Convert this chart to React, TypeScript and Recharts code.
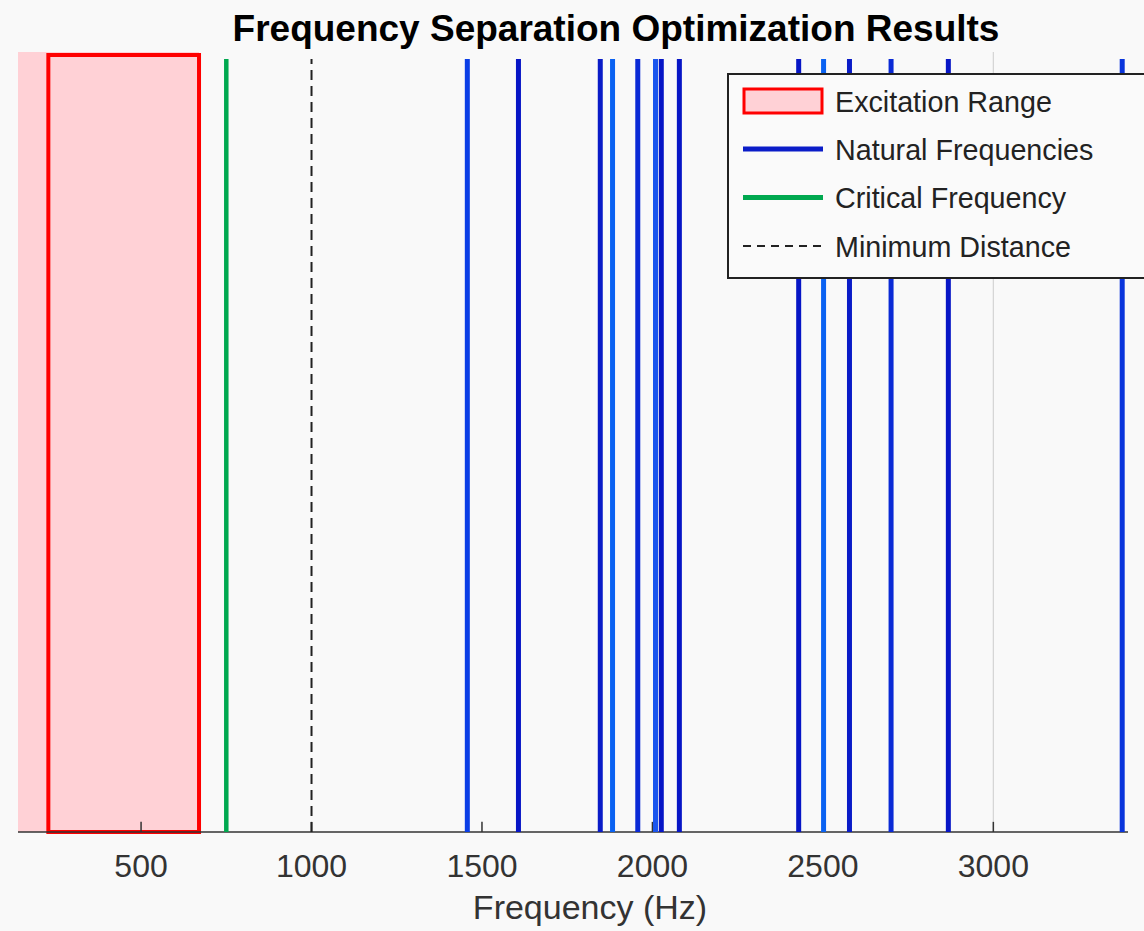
import { ComposedChart, XAxis, YAxis, ReferenceLine, ReferenceArea } from 'recharts'

// x axis
const xDomain = [139, 3395]
const xTicks = [500, 1000, 1500, 2000, 2500, 3000]

// markers (Hz)
const excitationRange = [228, 670]
const criticalFrequency = 750
const minimumDistance = 1000
const naturalFrequencies = [1457, 1607, 1847, 1883, 1957, 2009, 2026, 2079, 2429, 2502, 2578, 2700, 2868, 3378]

// line shades, one per natural frequency
const naturalShades = ['#0a3ee6', '#0716c6', '#0a1cc8', '#0a62f2', '#0a2ad6', '#1a55ee', '#0716c6', '#0716c6', '#0716c6', '#0a62f2', '#0a1cc8', '#0a2ad6', '#0716c6', '#0a35dc']

const legendItems = ['Excitation Range', 'Natural Frequencies', 'Critical Frequency', 'Minimum Distance']

const font = '"Liberation Sans", Arial, Helvetica, sans-serif'

const FreqTick = (props: any) => {
  const { x, y, payload } = props
  return (
    <text x={x} y={y + 45} textAnchor="middle" fontSize={32} fill="#333" fontFamily={font}>
      {payload.value}
    </text>
  )
}

export default function App() {
  return (
    <div style={{ position: 'absolute', left: 0, top: 0, width: 1144, height: 931, background: '#f9f9f9', fontFamily: font, overflow: 'hidden' }}>
      <div style={{ position: 'absolute', left: 0, width: 1232, top: 8, textAlign: 'center', fontWeight: 'bold', fontSize: 37, color: '#000', lineHeight: '42px' }}>
        Frequency Separation Optimization Results
      </div>
      <ComposedChart width={1144} height={931} margin={{ top: 52, right: 16, bottom: 39, left: 18 }}>
        <XAxis
          type="number"
          dataKey="f"
          domain={xDomain}
          ticks={xTicks}
          height={60}
          axisLine={false}
          tickLine={false}
          tickSize={0}
          tickMargin={0}
          tick={<FreqTick />}
          allowDataOverflow
        />
        <YAxis type="number" domain={[0, 1]} hide allowDataOverflow />
        <ReferenceLine segment={[{ x: 3000, y: 0 }, { x: 3000, y: 1 }]} stroke="#d4d4d4" strokeWidth={1.2} />
        <ReferenceLine y={0} stroke="#333" strokeWidth={1.5} />
        {xTicks.map((t) => (
          <ReferenceLine key={'t' + t} segment={[{ x: t, y: 0 }, { x: t, y: 0.013 }]} stroke="#333" strokeWidth={1.5} />
        ))}
        <ReferenceArea x1={xDomain[0]} x2={excitationRange[1]} y1={0} y2={1} fill="#ffd1d6" fillOpacity={1} stroke="none" />
        <ReferenceArea x1={excitationRange[0]} x2={excitationRange[1]} y1={0} y2={0.996} fill="none" stroke="#ff0000" strokeWidth={4} />
        <ReferenceLine segment={[{ x: criticalFrequency, y: 0 }, { x: criticalFrequency, y: 0.991 }]} stroke="#00a84f" strokeWidth={4.5} />
        <ReferenceLine segment={[{ x: minimumDistance, y: 0 }, { x: minimumDistance, y: 0.991 }]} stroke="#222" strokeWidth={2} strokeDasharray="10 6" />
        {naturalFrequencies.map((f, i) => (
          <ReferenceLine key={'n' + f} segment={[{ x: f, y: 0 }, { x: f, y: 0.991 }]} stroke={naturalShades[i]} strokeWidth={5} />
        ))}
      </ComposedChart>
      <svg width={1144} height={931} style={{ position: 'absolute', left: 0, top: 0, pointerEvents: 'none' }}>
        <rect x={728} y={74} width={440} height={204} fill="#fafafa" stroke="#222" strokeWidth={2} />
        <rect x={744} y={89} width={78} height={24} fill="#ffd1d6" stroke="#ff0000" strokeWidth={3} />
        <line x1={743} x2={823} y1={149} y2={149} stroke="#0a1cc8" strokeWidth={5} />
        <line x1={743} x2={823} y1={197.5} y2={197.5} stroke="#00a84f" strokeWidth={5} />
        <line x1={743} x2={823} y1={246} y2={246} stroke="#222" strokeWidth={2} strokeDasharray="8 6" />
        {legendItems.map((t, i) => (
          <text key={t} x={835} y={112 + i * 48.2} fontSize={28.7} fill="#222" fontFamily={font}>
            {t}
          </text>
        ))}
      </svg>
      <div style={{ position: 'absolute', left: 0, width: 1180, top: 888, textAlign: 'center', fontSize: 34, color: '#333', lineHeight: '38px' }}>
        Frequency (Hz)
      </div>
    </div>
  )
}
